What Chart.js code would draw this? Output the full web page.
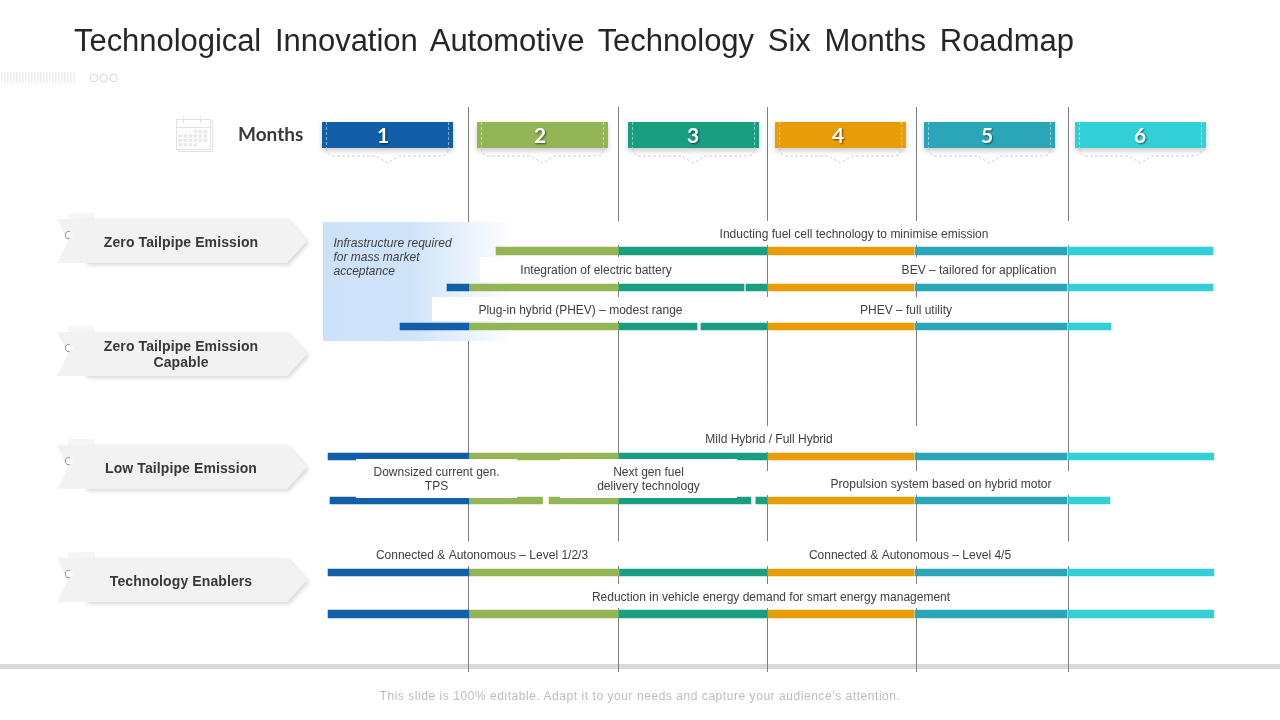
<!DOCTYPE html>
<html><head><meta charset="utf-8">
<style>
html,body{margin:0;padding:0;background:#fff;width:1280px;height:720px;overflow:hidden}
#wrap{position:relative;width:1280px;height:720px}
canvas{position:absolute;left:0;top:0}
h1{position:absolute;left:74px;top:21px;margin:0;font:400 31px/40px "Liberation Sans",Arial,sans-serif;color:#262626;white-space:nowrap;word-spacing:5.3px;letter-spacing:-.05px}
p{position:absolute;left:0;width:1280px;top:688px;margin:0;text-align:center;font:400 12px/16px "Liberation Sans",Arial,sans-serif;color:#bcbcbc;letter-spacing:.55px}
</style>
<script src="https://cdn.jsdelivr.net/npm/chart.js@4"></script>
</head><body><div id="wrap">
<canvas id="c" width="1280" height="720"></canvas>
<h1>Technological Innovation Automotive Technology Six Months Roadmap</h1>
<p>This slide is 100% editable. Adapt it to your needs and capture your audience’s attention.</p>
</div>
<script>
const months = ['1','2','3','4','5','6'];
const monthColors = ['#125ea9','#93b556','#1a9e82','#e89c07','#2ba6b8','#33cfd6'];
const monthBoundaries = [1,2,2.993,3.987,5];
const categories = ['Zero Tailpipe Emission','Zero Tailpipe Emission|Capable','Low Tailpipe Emission','Technology Enablers'];

// rows of the roadmap: lane on the vertical scale and bar weight
const rowLanes = [3.6,4.5125,5.4875,8.7375,9.8375,11.6375,12.675];
const rowWeights = [8,7,7,7,7,7,8];

// spans per month: [row, startMonth, endMonth]
const month1Spans = [[1,.858,1.003],[2,.545,1.003],[3,.065,1.003],[4,.078,1.003],[5,.065,1.003],[6,.065,1.003]];
const month2Spans = [[0,1.185,2],[1,1.003,2],[2,1.003,2],[3,1.003,2],[4,1.003,1.495],[4,1.538,2],[5,1.003,2.005],[6,1.003,2]];
const month3Spans = [[0,2,2.993],[1,2,2.838],[1,2.851,2.993],[2,2,2.525],[2,2.551,2.993],[3,2,2.993],[4,2,2.884],[4,2.917,2.993],[5,2.005,2.993],[6,2,2.993]];
const month4Spans = [[0,2.993,3.971],[1,2.993,3.971],[2,2.993,3.971],[3,2.993,3.971],[4,2.993,3.971],[5,2.993,3.971],[6,2.993,3.971]];
const month5Spans = [[0,3.978,4.991],[1,3.978,4.991],[2,3.978,4.991],[3,3.978,4.991],[4,3.978,4.991],[5,3.978,4.991],[6,3.978,4.991]];
const month6Spans = [[0,4.998,5.964],[1,4.998,5.964],[2,4.998,5.284],[3,4.998,5.97],[4,4.998,5.278],[5,4.998,5.97],[6,4.998,5.97]];
const monthSpans = [month1Spans,month2Spans,month3Spans,month4Spans,month5Spans,month6Spans];

const barLabels = ['Inducting fuel cell technology to minimise emission','Integration of electric battery','BEV – tailored for application','Plug-in hybrid (PHEV) – modest range','PHEV – full utility','Mild Hybrid / Full Hybrid','Downsized current gen.','TPS','Next gen fuel','delivery technology','Propulsion system based on hybrid motor','Connected & Autonomous – Level 1/2/3','Connected & Autonomous – Level 4/5','Reduction in vehicle energy demand for smart energy management'];
const noteLines = ['Infrastructure required','for mass market','acceptance'];
const monthsHeading = 'Months';

// --- layout of the slide furniture (pixels) ---
const FONT = '"Liberation Sans",Arial,sans-serif';
const labelSpots = [[854,235],[596,271],[979,271],[580.5,311],[906,311],[769,440],[436.5,473],[436.5,487],[648.5,473],[648.5,487],[941,485],[482,556],[910,556],[771,598]];
const maskRects = [[516,221,564,24],[480,257,220,25],[880,257,180,25],[432,297,570,24],[690,426,240,26],[760,471,315,24],[340,541.5,740,24.5],[585,584,370,24]];
const trimRects = [[356,459,161,39],[560,459,177,39]];
const chipSpots = [322,477,628,775,924,1075];
const chipTextX = [383,540,693,838,987,1140];
const ribbonTops = [219,332,445,558];

function ribbon(ctx,top,label){
  const h=44,L=57,R=287,T=307;
  ctx.save();
  ctx.fillStyle='#f6f6f6';ctx.fillRect(68,top-6,27,7);
  ctx.shadowColor='rgba(0,0,0,.16)';ctx.shadowBlur=4;ctx.shadowOffsetX=2;ctx.shadowOffsetY=2;
  ctx.fillStyle='#f2f2f2';
  ctx.beginPath();ctx.moveTo(L+28,top);ctx.lineTo(R,top);ctx.lineTo(T,top+h/2);ctx.lineTo(R,top+h);ctx.lineTo(L+28,top+h);ctx.closePath();ctx.fill();
  ctx.shadowColor='transparent';
  ctx.beginPath();ctx.moveTo(L,top);ctx.lineTo(R,top);ctx.lineTo(T,top+h/2);ctx.lineTo(R,top+h);ctx.lineTo(L,top+h);ctx.lineTo(L+11,top+h/2);ctx.closePath();ctx.fill();
  ctx.fillStyle='#fff';ctx.beginPath();ctx.arc(69,top+16,3.6,0,Math.PI*2);ctx.fill();
  ctx.strokeStyle='#8c8c8c';ctx.lineWidth=1;ctx.beginPath();ctx.arc(69,top+16,3.6,Math.PI*.45,Math.PI*1.6);ctx.stroke();
  ctx.fillStyle='#383838';ctx.font='bold 14px '+FONT;ctx.textAlign='center';ctx.textBaseline='middle';
  ctx.letterSpacing='.1px';
  const parts=label.split('|');
  if(parts.length===1) ctx.fillText(parts[0],181,top+24);
  else {ctx.fillText(parts[0],181,top+15.5);ctx.fillText(parts[1],181,top+31.5);}
  ctx.restore();
}
function chip(ctx,x,color,label,tx){
  const w=131,y=122,h=26,cx=x+w/2;
  ctx.save();
  ctx.shadowColor='rgba(0,0,0,.2)';ctx.shadowBlur=5;ctx.shadowOffsetY=3;
  ctx.fillStyle=color;ctx.fillRect(x,y,w,h);
  ctx.shadowColor='transparent';
  ctx.setLineDash([3,2]);ctx.lineWidth=.8;ctx.strokeStyle='rgba(255,255,255,.6)';
  [x+4.5,x+w-4.5].forEach(v=>{ctx.beginPath();ctx.moveTo(v,y);ctx.lineTo(v,y+h);ctx.stroke();});
  ctx.strokeStyle='#c4c4c4';
  ctx.beginPath();ctx.moveTo(x+4.5,y+h);ctx.quadraticCurveTo(x+5,y+h+8,x+12,y+h+8);ctx.lineTo(cx-12,y+h+8);ctx.lineTo(cx,y+h+15);ctx.lineTo(cx+12,y+h+8);ctx.lineTo(x+w-12,y+h+8);ctx.quadraticCurveTo(x+w-5,y+h+8,x+w-4.5,y+h);ctx.stroke();
  ctx.setLineDash([]);
  ctx.shadowColor='rgba(0,0,0,.55)';ctx.shadowBlur=2;ctx.shadowOffsetX=1;ctx.shadowOffsetY=1;
  ctx.fillStyle='#fff';ctx.font='bold 21px Lato,'+FONT;ctx.textAlign='center';ctx.textBaseline='middle';
  ctx.fillText(label,tx,y+h/2+1.5);
  ctx.restore();
}
function calendar(ctx){
  ctx.save();ctx.strokeStyle='#e2e2e2';ctx.lineWidth=1;ctx.fillStyle='#fff';
  ctx.strokeRect(178.5,121.5,34,30);ctx.fillRect(176,119,35,31);ctx.strokeRect(176.5,119.5,34,30);
  ctx.beginPath();ctx.moveTo(177,127.5);ctx.lineTo(210,127.5);ctx.stroke();
  [183,200].forEach(v=>{ctx.beginPath();ctx.moveTo(v+.5,116);ctx.lineTo(v+.5,123);ctx.stroke();});
  ctx.fillStyle='#e8e8e8';
  for(let r=0;r<4;r++)for(let c=0;c<6;c++){ if(r<1&&c<3)continue; if(r==3&&c>3)continue; ctx.fillRect(178.5+c*5,130+r*4.4,3.6,3.2);}
  ctx.restore();
}
function topDecor(ctx){
  ctx.save();ctx.fillStyle='#eeeeee';
  for(let v=1;v<76;v+=3)ctx.fillRect(v,72,1.6,11);
  ctx.strokeStyle='#dcdcdc';ctx.lineWidth=1.2;
  [94,103.5,113.5].forEach(v=>{ctx.beginPath();ctx.arc(v,78,3.7,0,Math.PI*2);ctx.stroke();});
  ctx.restore();
}
const slideFurniture = {
  id:'slideFurniture',
  beforeDraw(chart){
    const ctx=chart.ctx;
    ctx.save();ctx.fillStyle='#fff';ctx.fillRect(0,0,1280,720);
    ctx.fillStyle='#d9d9d9';ctx.fillRect(0,664,1280,5);
    ctx.restore();
    topDecor(ctx);calendar(ctx);
    ctx.save();ctx.fillStyle='#3a3a3a';ctx.font='bold 19px Lato,'+FONT;ctx.textAlign='left';ctx.textBaseline='middle';
    ctx.fillText(monthsHeading,238,135);ctx.restore();
    categories.forEach((c,i)=>ribbon(ctx,ribbonTops[i],c));
    months.forEach((m,i)=>chip(ctx,chipSpots[i],monthColors[i],m,chipTextX[i]));
  },
  beforeDatasetsDraw(chart){
    const ctx=chart.ctx;ctx.save();
    const g=ctx.createLinearGradient(323,0,516,0);
    g.addColorStop(0,'#cde2f8');g.addColorStop(.45,'#cfe3f9');g.addColorStop(1,'rgba(255,255,255,1)');
    ctx.fillStyle=g;ctx.fillRect(323,222,193,119);
    ctx.fillStyle='#fff';maskRects.forEach(r=>ctx.fillRect(...r));
    ctx.restore();
  },
  afterDatasetsDraw(chart){
    const ctx=chart.ctx;ctx.save();
    ctx.fillStyle='#fff';trimRects.forEach(r=>ctx.fillRect(...r));
    ctx.fillStyle='#404040';ctx.font='12px '+FONT;ctx.textAlign='center';ctx.textBaseline='middle';
    barLabels.forEach((t,i)=>ctx.fillText(t,labelSpots[i][0],labelSpots[i][1]));
    ctx.font='italic 12px '+FONT;ctx.textAlign='left';
    noteLines.forEach((t,i)=>ctx.fillText(t,333.5,244+i*14));
    ctx.restore();
  }
};

const datasets=[];
monthSpans.forEach((spans,m)=>{
  [...new Set(rowWeights)].forEach(w=>{
    const rows=spans.filter(s=>rowWeights[s[0]]===w);
    if(!rows.length)return;
    datasets.push({label:'Month '+months[m],backgroundColor:monthColors[m],borderWidth:0,grouped:false,barThickness:w,
      data:rows.map(s=>({x:[s[1],s[2]],y:rowLanes[s[0]]}))});
  });
});
new Chart(document.getElementById('c'),{
  type:'bar',
  data:{datasets},
  options:{
    indexAxis:'y',responsive:false,animation:false,devicePixelRatio:1,
    layout:{padding:{left:318.3,right:61.7,top:107,bottom:48}},
    plugins:{legend:{display:false},tooltip:{enabled:false}},
    scales:{
      x:{type:'linear',min:0,max:6,
        afterBuildTicks(ax){ax.ticks=monthBoundaries.map(value=>({value}));},
        ticks:{display:false},
        grid:{color:'#808080',lineWidth:1,drawTicks:false},border:{display:false}},
      y:{type:'linear',reverse:true,min:0,max:14.125,offset:false,
        ticks:{display:false},grid:{display:false,drawTicks:false},border:{display:false}}
    }
  },
  plugins:[slideFurniture]
});
</script></body></html>
